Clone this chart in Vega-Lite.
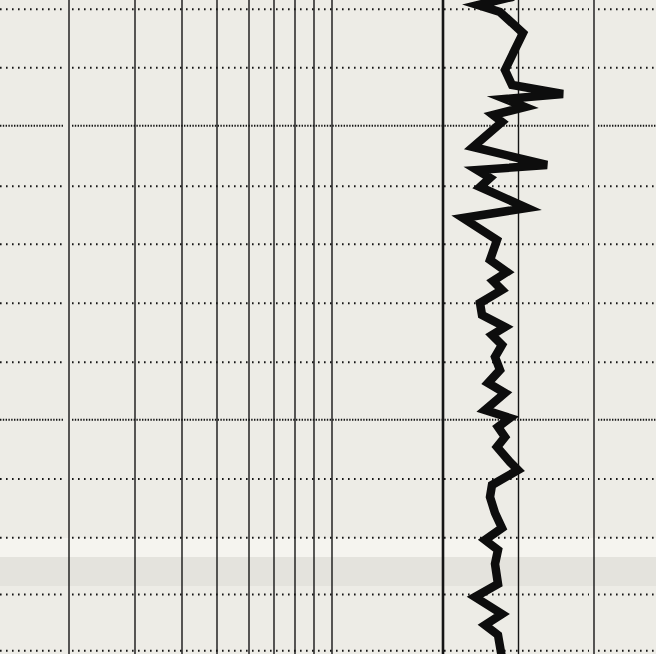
{
  "$schema": "https://vega.github.io/schema/vega-lite/v6.json",
  "width": 656,
  "height": 654,
  "padding": 0,
  "autosize": {"type": "none"},
  "background": "#edece6",
  "config": {"view": {"stroke": null}},
  "datasets": {
    "crease": [
      {"top": 538, "bottom": 557, "shade": "light"},
      {"top": 557, "bottom": 586, "shade": "dark"}
    ],
    "hlines": [
      {"depth": 9.3, "from": 0, "to": 64, "kind": "minor"}, {"depth": 9.3, "from": 72, "to": 589, "kind": "minor"}, {"depth": 9.3, "from": 598, "to": 656, "kind": "minor"},
      {"depth": 67.7, "from": 0, "to": 64, "kind": "minor"}, {"depth": 67.7, "from": 72, "to": 589, "kind": "minor"}, {"depth": 67.7, "from": 598, "to": 656, "kind": "minor"},
      {"depth": 125.7, "from": 0, "to": 64, "kind": "major"}, {"depth": 125.7, "from": 72, "to": 589, "kind": "major"}, {"depth": 125.7, "from": 598, "to": 656, "kind": "major"},
      {"depth": 186.2, "from": 0, "to": 64, "kind": "minor"}, {"depth": 186.2, "from": 72, "to": 589, "kind": "minor"}, {"depth": 186.2, "from": 598, "to": 656, "kind": "minor"},
      {"depth": 244.3, "from": 0, "to": 64, "kind": "minor"}, {"depth": 244.3, "from": 72, "to": 589, "kind": "minor"}, {"depth": 244.3, "from": 598, "to": 656, "kind": "minor"},
      {"depth": 303.3, "from": 0, "to": 64, "kind": "minor"}, {"depth": 303.3, "from": 72, "to": 589, "kind": "minor"}, {"depth": 303.3, "from": 598, "to": 656, "kind": "minor"},
      {"depth": 362.3, "from": 0, "to": 64, "kind": "minor"}, {"depth": 362.3, "from": 72, "to": 589, "kind": "minor"}, {"depth": 362.3, "from": 598, "to": 656, "kind": "minor"},
      {"depth": 419.8, "from": 0, "to": 64, "kind": "major"}, {"depth": 419.8, "from": 72, "to": 589, "kind": "major"}, {"depth": 419.8, "from": 598, "to": 656, "kind": "major"},
      {"depth": 479, "from": 0, "to": 64, "kind": "minor"}, {"depth": 479, "from": 72, "to": 589, "kind": "minor"}, {"depth": 479, "from": 598, "to": 656, "kind": "minor"},
      {"depth": 537.7, "from": 0, "to": 64, "kind": "minor"}, {"depth": 537.7, "from": 72, "to": 589, "kind": "minor"}, {"depth": 537.7, "from": 598, "to": 656, "kind": "minor"},
      {"depth": 594.5, "from": 0, "to": 64, "kind": "minor"}, {"depth": 594.5, "from": 72, "to": 589, "kind": "minor"}, {"depth": 594.5, "from": 598, "to": 656, "kind": "minor"},
      {"depth": 650.7, "from": 0, "to": 64, "kind": "minor"}, {"depth": 650.7, "from": 72, "to": 589, "kind": "minor"}, {"depth": 650.7, "from": 598, "to": 656, "kind": "minor"}
    ],
    "vlines": [
      {"pos": 69, "weight": "thin"}, {"pos": 135, "weight": "thin"}, {"pos": 182, "weight": "thin"},
      {"pos": 217, "weight": "thin"}, {"pos": 249, "weight": "thin"}, {"pos": 274, "weight": "thin"},
      {"pos": 295, "weight": "thin"}, {"pos": 314, "weight": "thin"}, {"pos": 332, "weight": "thin"},
      {"pos": 443, "weight": "thick"}, {"pos": 518.5, "weight": "thin"}, {"pos": 594, "weight": "thin"}
    ],
    "trace": [
      {"i": 0, "v": 512, "d": -3}, {"i": 1, "v": 478, "d": 5}, {"i": 2, "v": 500, "d": 12},
      {"i": 3, "v": 523, "d": 33}, {"i": 4, "v": 505, "d": 70}, {"i": 5, "v": 512, "d": 85},
      {"i": 6, "v": 563, "d": 94}, {"i": 7, "v": 505, "d": 99}, {"i": 8, "v": 525, "d": 107},
      {"i": 9, "v": 493, "d": 115}, {"i": 10, "v": 502, "d": 122}, {"i": 11, "v": 473, "d": 147},
      {"i": 12, "v": 547, "d": 165}, {"i": 13, "v": 477, "d": 170}, {"i": 14, "v": 490, "d": 178},
      {"i": 15, "v": 480, "d": 187}, {"i": 16, "v": 527, "d": 208}, {"i": 17, "v": 463, "d": 218},
      {"i": 18, "v": 497, "d": 240}, {"i": 19, "v": 490, "d": 260}, {"i": 20, "v": 507, "d": 272},
      {"i": 21, "v": 493, "d": 281}, {"i": 22, "v": 502, "d": 290}, {"i": 23, "v": 480, "d": 303},
      {"i": 24, "v": 482, "d": 315}, {"i": 25, "v": 505, "d": 327}, {"i": 26, "v": 492, "d": 335},
      {"i": 27, "v": 502, "d": 345}, {"i": 28, "v": 495, "d": 357}, {"i": 29, "v": 500, "d": 370},
      {"i": 30, "v": 488, "d": 383}, {"i": 31, "v": 505, "d": 393}, {"i": 32, "v": 485, "d": 410},
      {"i": 33, "v": 510, "d": 418}, {"i": 34, "v": 498, "d": 427}, {"i": 35, "v": 505, "d": 437},
      {"i": 36, "v": 497, "d": 447}, {"i": 37, "v": 510, "d": 462}, {"i": 38, "v": 518, "d": 470},
      {"i": 39, "v": 492, "d": 485}, {"i": 40, "v": 490, "d": 497}, {"i": 41, "v": 495, "d": 513},
      {"i": 42, "v": 502, "d": 528}, {"i": 43, "v": 485, "d": 540}, {"i": 44, "v": 498, "d": 550},
      {"i": 45, "v": 495, "d": 564}, {"i": 46, "v": 498, "d": 584}, {"i": 47, "v": 475, "d": 597},
      {"i": 48, "v": 502, "d": 614}, {"i": 49, "v": 485, "d": 625}, {"i": 50, "v": 498, "d": 635},
      {"i": 51, "v": 502, "d": 658}
    ]
  },
  "layer": [
    {
      "data": {"name": "crease"},
      "mark": {"type": "rect"},
      "encoding": {
        "x": {"datum": 0, "type": "quantitative", "scale": {"domain": [0, 656], "nice": false, "zero": false}, "axis": null},
        "x2": {"datum": 656},
        "y": {"field": "top", "type": "quantitative", "scale": {"domain": [0, 654], "reverse": true, "nice": false, "zero": false}, "axis": null},
        "y2": {"field": "bottom"},
        "color": {"field": "shade", "type": "nominal", "scale": {"domain": ["light", "dark"], "range": ["#f5f4ef", "#e4e3dd"]}, "legend": null}
      }
    },
    {
      "data": {"name": "hlines"},
      "transform": [{"filter": "datum.kind === 'minor'"}],
      "mark": {"type": "rule", "color": "#151515", "strokeWidth": 2, "strokeDash": [1.6, 4.4]},
      "encoding": {
        "x": {"field": "from", "type": "quantitative", "scale": {"domain": [0, 656], "nice": false, "zero": false}, "axis": null},
        "x2": {"field": "to"},
        "y": {"field": "depth", "type": "quantitative", "scale": {"domain": [0, 654], "reverse": true, "nice": false, "zero": false}, "axis": null}
      }
    },
    {
      "data": {"name": "hlines"},
      "transform": [{"filter": "datum.kind === 'major'"}],
      "mark": {"type": "rule", "color": "#151515", "strokeWidth": 2, "strokeDash": [1.4, 1.4]},
      "encoding": {
        "x": {"field": "from", "type": "quantitative", "scale": {"domain": [0, 656], "nice": false, "zero": false}, "axis": null},
        "x2": {"field": "to"},
        "y": {"field": "depth", "type": "quantitative", "scale": {"domain": [0, 654], "reverse": true, "nice": false, "zero": false}, "axis": null}
      }
    },
    {
      "data": {"name": "vlines"},
      "mark": {"type": "rule", "color": "#151515"},
      "encoding": {
        "x": {"field": "pos", "type": "quantitative", "scale": {"domain": [0, 656], "nice": false, "zero": false}, "axis": null},
        "strokeWidth": {"field": "weight", "type": "nominal", "scale": {"domain": ["thin", "thick"], "range": [1.4, 2.6]}, "legend": null}
      }
    },
    {
      "data": {"name": "trace"},
      "mark": {"type": "line", "color": "#0d0d0d", "strokeWidth": 8.5, "strokeJoin": "miter", "strokeMiterLimit": 5, "strokeCap": "round"},
      "encoding": {
        "x": {"field": "v", "type": "quantitative", "scale": {"domain": [0, 656], "nice": false, "zero": false}, "axis": null},
        "y": {"field": "d", "type": "quantitative", "scale": {"domain": [0, 654], "reverse": true, "nice": false, "zero": false}, "axis": null},
        "order": {"field": "i", "type": "quantitative"}
      }
    }
  ]
}
